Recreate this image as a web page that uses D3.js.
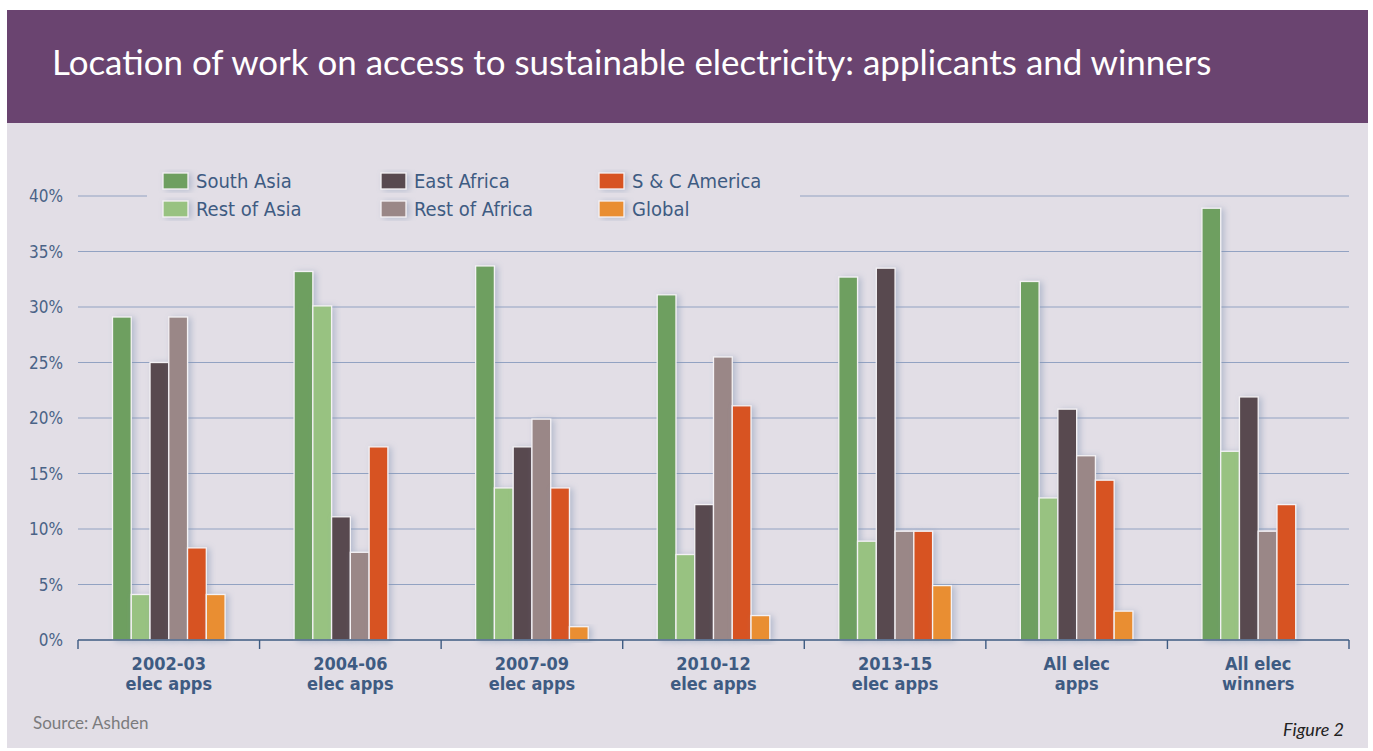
<!DOCTYPE html>
<meta charset="utf-8">
<style>
  body { margin: 0; background: #fff; }
  .cond { font-family: "Liberation Sans Narrow", "DejaVu Sans Condensed", "Roboto", sans-serif; }
</style>
<svg width="1373" height="751"></svg>
<script src="https://d3js.org/d3.v7.min.js"></script>
<script>

  // data (percent)
  var categories = [["2002-03", "elec apps"], ["2004-06", "elec apps"], ["2007-09", "elec apps"],
                    ["2010-12", "elec apps"], ["2013-15", "elec apps"], ["All elec", "apps"], ["All elec", "winners"]];
  var series = ["South Asia", "Rest of Asia", "East Africa", "Rest of Africa", "S & C America", "Global"];
  var colors = ["#6e9f61", "#98c281", "#584a4f", "#9a8787", "#d75322", "#e98e31"];
  var southAsia    = [29.1, 33.2, 33.7, 31.1, 32.7, 32.3, 38.9];
  var restOfAsia   = [4.1, 30.1, 13.7, 7.7, 8.9, 12.8, 17.0];
  var eastAfrica   = [25.0, 11.1, 17.4, 12.2, 33.5, 20.8, 21.9];
  var restOfAfrica = [29.1, 7.9, 19.9, 25.5, 9.8, 16.6, 9.8];
  var scAmerica    = [8.3, 17.4, 13.7, 21.1, 9.8, 14.4, 12.2];
  var globalVals   = [4.1, 0, 1.2, 2.2, 4.9, 2.6, 0];
  var yTicks = [0, 5, 10, 15, 20, 25, 30, 35, 40];

  var values = [southAsia, restOfAsia, eastAfrica, restOfAfrica, scAmerica, globalVals];

  var svg = d3.select("svg");

  var defs = svg.append("defs");
  defs.append("filter").attr("id", "shadow")
      .attr("x", "-50%").attr("y", "-20%").attr("width", "200%").attr("height", "140%")
    .append("feDropShadow")
      .attr("dx", 3).attr("dy", 1).attr("stdDeviation", 3)
      .attr("flood-color", "#7d8fb0").attr("flood-opacity", 0.45);

  // panels
  svg.append("rect").attr("x", 7).attr("y", 10).attr("width", 1361).attr("height", 113).attr("fill", "#6a4470");
  svg.append("rect").attr("x", 7).attr("y", 123).attr("width", 1361).attr("height", 625).attr("fill", "#e2dee6");

  var title = svg.append("text")
      .attr("x", 52).attr("y", 75)
      .attr("fill", "#fff")
      .style("font-family", "Lato, 'Open Sans', sans-serif")
      .style("font-size", "31px")
      .text("Location of work on access to sustainable electricity: applicants and winners");
  var tw = title.node().getComputedTextLength();
  title.style("font-size", (31 * 1160 / tw) + "px");

  var pLeft = 78, pRight = 1349, pTop = 196, pBottom = 640;

  var y = d3.scaleLinear().domain([0, 40]).range([pBottom, pTop]);
  var x0 = d3.scaleBand().domain(d3.range(categories.length)).range([pLeft, pRight]).padding(0);
  var groupW = x0.bandwidth() * 0.62;
  var x1 = d3.scaleBand().domain(d3.range(series.length)).range([0, groupW]).padding(0);

  // gridlines (top one broken by legend)
  var grid = svg.append("g");
  yTicks.filter(function(t) { return t > 0; }).forEach(function(t) {
    var segs = t === 40 ? [[pLeft, 147], [800, pRight]] : [[pLeft, pRight]];
    segs.forEach(function(s) {
      grid.append("line")
          .attr("x1", s[0]).attr("x2", s[1])
          .attr("y1", y(t)).attr("y2", y(t))
          .attr("stroke", "#92a2c2").attr("stroke-width", 1.2);
    });
  });

  // y labels
  svg.append("g").selectAll("text").data(yTicks).join("text")
      .attr("class", "cond")
      .attr("x", 63).attr("y", function(d) { return y(d) + 6; })
      .attr("text-anchor", "end")
      .attr("fill", "#4a6387")
      .style("font-size", "17px")
      .text(function(d) { return d + "%"; });

  // bars
  var groups = svg.append("g").selectAll("g").data(categories).join("g")
      .attr("transform", function(d, i) { return "translate(" + (x0(i) + (x0.bandwidth() - groupW) / 2) + ",0)"; });

  groups.selectAll("rect")
      .data(function(d, i) { return values.map(function(v, s) { return { s: s, v: v[i] }; }).filter(function(d) { return d.v > 0; }); })
      .join("rect")
      .attr("x", function(d) { return x1(d.s); })
      .attr("y", function(d) { return y(d.v); })
      .attr("width", x1.bandwidth())
      .attr("height", function(d) { return y(0) - y(d.v); })
      .attr("fill", function(d) { return colors[d.s]; })
      .attr("stroke", "#f4f2f5").attr("stroke-width", 1.3)
      .attr("filter", "url(#shadow)");

  // x axis
  var axis = svg.append("g");
  axis.append("line").attr("x1", pLeft).attr("x2", pRight).attr("y1", pBottom).attr("y2", pBottom)
      .attr("stroke", "#3e5b82").attr("stroke-width", 1.6);
  axis.selectAll("line.tick").data(d3.range(categories.length + 1)).join("line")
      .attr("class", "tick")
      .attr("x1", function(i) { return pLeft + i * x0.step(); })
      .attr("x2", function(i) { return pLeft + i * x0.step(); })
      .attr("y1", pBottom).attr("y2", pBottom + 9)
      .attr("stroke", "#3e5b82").attr("stroke-width", 1.4);

  var labG = axis.selectAll("g.lab").data(categories).join("g")
      .attr("class", "lab")
      .attr("transform", function(d, i) { return "translate(" + (x0(i) + x0.bandwidth() / 2) + ",0)"; });
  [0, 1].forEach(function(line) {
    labG.append("text")
        .attr("class", "cond")
        .attr("text-anchor", "middle")
        .attr("y", 670 + line * 20)
        .attr("fill", "#3e5b82")
        .style("font-size", "18px")
        .style("font-weight", "bold")
        .text(function(d) { return d[line]; });
  });

  // legend
  var legend = svg.append("g").selectAll("g").data(series).join("g")
      .attr("transform", function(d, i) { return "translate(" + (163 + Math.floor(i / 2) * 218) + "," + (173 + (i % 2) * 28) + ")"; });
  legend.append("rect")
      .attr("width", 25).attr("height", 16)
      .attr("fill", function(d, i) { return colors[i]; })
      .attr("stroke", "#f4f2f5").attr("stroke-width", 1.3)
      .attr("filter", "url(#shadow)");
  legend.append("text")
      .attr("class", "cond")
      .attr("x", 33).attr("y", 15)
      .attr("fill", "#3e5b82")
      .style("font-size", "20px")
      .text(function(d) { return d; });

  svg.append("text")
      .attr("x", 33).attr("y", 729)
      .attr("fill", "#7b7b7d")
      .style("font-family", "Lato, 'Open Sans', sans-serif")
      .style("font-size", "17px")
      .text("Source: Ashden");

  svg.append("text")
      .attr("x", 1344).attr("y", 736)
      .attr("text-anchor", "end")
      .attr("fill", "#222")
      .style("font-family", "Lato, 'Open Sans', sans-serif")
      .style("font-style", "italic")
      .style("font-size", "18px")
      .text("Figure 2");

</script>
